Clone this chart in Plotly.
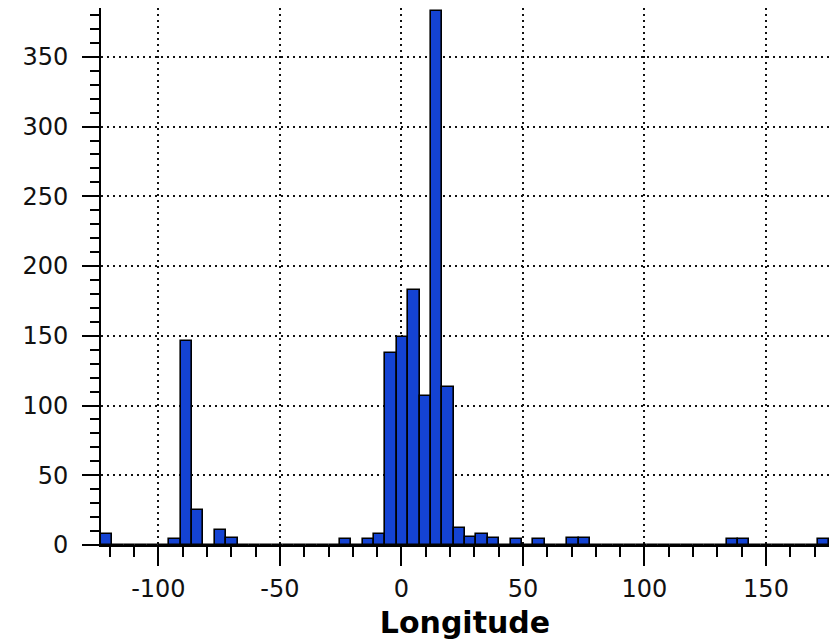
import plotly.graph_objects as go

# Histogram of longitude: 64 equal-width bins
bin_start = -123.6
bin_width = 4.68
counts = [8, 0, 0, 0, 0, 0, 4, 146, 25, 0,
          11, 5, 0, 0, 0, 0, 0, 0, 0, 0,
          0, 4, 0, 4, 8, 138, 149, 183, 107, 383,
          113, 12, 6, 8, 5, 0, 4, 0, 4, 0,
          0, 5, 5, 0, 0, 0, 0, 0, 0, 0,
          0, 0, 0, 0, 0, 4, 4, 0, 0, 0,
          0, 0, 0, 4]
x_ticks = [-100, -50, 0, 50, 100, 150]
x_tick_labels = ["-100", "-50", "0", "50", "100", "150"]
y_ticks = [0, 50, 100, 150, 200, 250, 300, 350]
x_title = "Longitude"

centers = [bin_start + (i + 0.5) * bin_width for i in range(len(counts))]
x_end = bin_start + len(counts) * bin_width

fig = go.Figure(go.Bar(
    x=centers, y=counts, width=bin_width,
    marker=dict(color="#1443D3", line=dict(color="#000000", width=1.6)),
))

grid = dict(showgrid=True, gridcolor="#111111", gridwidth=2, griddash="2px,4px")
tickfont = dict(family="DejaVu Sans", size=24, color="#111111")

fig.update_layout(
    width=837, height=640,
    margin=dict(l=101, r=8, t=8, b=95),
    paper_bgcolor="white", plot_bgcolor="white",
    bargap=0, showlegend=False,
    xaxis=dict(
        range=[bin_start, x_end], tickvals=x_ticks, ticktext=x_tick_labels,
        ticks="outside", ticklen=19, automargin=False,
        tickwidth=2, tickcolor="#000", showline=True, linecolor="#000", linewidth=2,
        zeroline=False, tickfont=tickfont, ticklabelstandoff=2,
        minor=dict(dtick=10, tick0=0, ticks="outside", ticklen=10, tickwidth=2,
                   tickcolor="#000", showgrid=False),
        title=dict(text=x_title, font=dict(family="DejaVu Sans", size=30, color="#000", weight="bold"),
                   standoff=10),
        **grid,
    ),
    yaxis=dict(
        range=[0, 385], tickvals=y_ticks, ticks="outside", ticklen=17, automargin=False,
        tickwidth=2, tickcolor="#000", showline=True, linecolor="#000", linewidth=2,
        zeroline=False, tickfont=tickfont, ticklabelstandoff=9,
        minor=dict(dtick=10, tick0=0, ticks="outside", ticklen=9, tickwidth=2,
                   tickcolor="#000", showgrid=False),
        **grid,
    ),
)

fig.write_html("out.html")
